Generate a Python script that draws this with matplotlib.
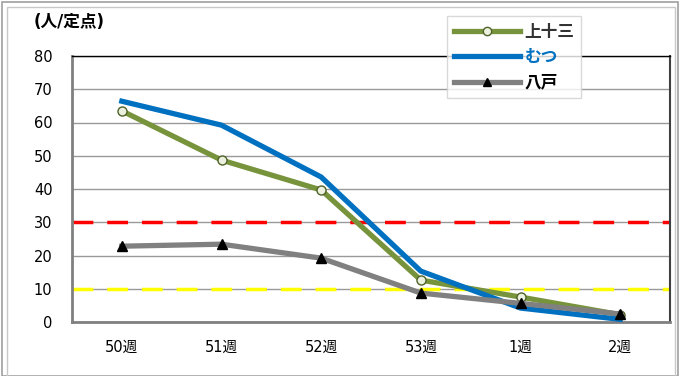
import matplotlib
matplotlib.use('Agg')
import matplotlib.pyplot as plt
from matplotlib.patches import Rectangle

plt.rcParams['font.family'] = ['DejaVu Sans', 'Noto Sans CJK JP']

# データ
weeks = ['50週', '51週', '52週', '53週', '1週', '2週']
kamitosan = [63.5, 48.7, 39.7, 12.6, 7.5, 2.2]
mutsu = [66.4, 59.2, 43.6, 15.3, 4.2, 0.8]
hachinohe = [22.8, 23.4, 19.2, 8.7, 5.6, 2.4]
alarm_level = 30
warning_level = 10

fig = plt.figure(figsize=(6.8, 3.76), dpi=100)
ax = fig.add_axes([72 / 680, 1 - 322 / 376, 598 / 680, 266 / 376])

x = list(range(len(weeks)))
ax.plot(x, kamitosan, color='#77933C', lw=3.8, marker='o', ms=6.5,
        mfc='#EBF1DE', mec='#4F6228', mew=1, label='上十三', zorder=3)
ax.plot(x, mutsu, color='#0070C0', lw=3.8, label='むつ', zorder=3)
ax.plot(x, hachinohe, color='#808080', lw=3.8, marker='^', ms=7.5,
        mfc='black', mec='black', label='八戸', zorder=4)

# 基準線
ax.axhline(alarm_level, color='red', lw=2.5, dashes=(6, 4), zorder=2)
ax.axhline(warning_level, color='#FFFF00', lw=2.5, dashes=(6, 4), zorder=2)

ax.set_xlim(-0.5, 5.5)
ax.set_ylim(0, 80)
ax.set_yticks(range(0, 81, 10))
ax.set_xticks(x)
ax.set_xticklabels(weeks)
ax.tick_params(axis='both', length=0, labelsize=10.5, colors='black')
ax.tick_params(axis='x', pad=13)
ax.tick_params(axis='y', pad=14)
ax.grid(axis='y', color='#999999', lw=1, zorder=1)

for s in ['left', 'bottom']:
    ax.spines[s].set_color('#808080')
    ax.spines[s].set_linewidth(2)
ax.spines['right'].set_color('#404040')
ax.spines['right'].set_linewidth(1.5)
ax.spines['top'].set_color('black')
ax.spines['top'].set_linewidth(1)

fig.text(34 / 680, 1 - 22 / 376, '(人/定点)', fontsize=12, fontweight='bold',
         va='center', ha='left')

leg = fig.legend(loc='upper left', bbox_to_anchor=(447 / 680, 1 - 16 / 376),
                 handlelength=4.0, fontsize=12, frameon=True, fancybox=False,
                 borderpad=0.4, labelspacing=0.45, handletextpad=0.25,
                 borderaxespad=0)
leg.get_frame().set_edgecolor('#D0D0D0')
leg.get_frame().set_linewidth(1)
for t, c in zip(leg.get_texts(), ['#333333', '#0070C0', 'black']):
    t.set_color(c)
    t.set_fontweight('bold')
for h in leg.legend_handles:
    h.set_markersize(6)

# 外枠
fig.patches.append(Rectangle((2 / 680, 0), 676 / 680, 1 - 2 / 376, transform=fig.transFigure,
                             fill=False, edgecolor='#A0A0A0', lw=1.2))
fig.patches.append(Rectangle((7 / 680, 0), 668 / 680, 1 - 7 / 376, transform=fig.transFigure,
                             fill=False, edgecolor='#C8C8C8', lw=1))

fig.savefig('out.png', dpi=100)
